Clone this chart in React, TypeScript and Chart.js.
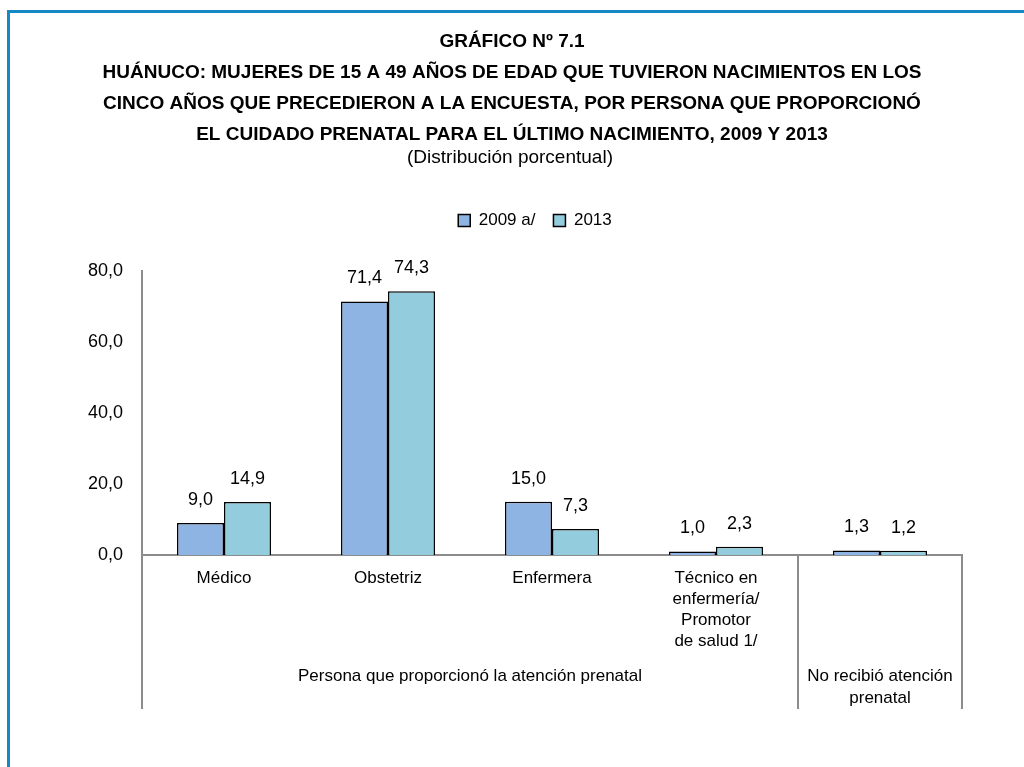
import React, { useEffect, useRef } from 'react';
import { Chart, registerables } from 'chart.js';

Chart.register(...registerables);

const FONT = "'Liberation Sans Narrow', 'Arial Narrow', 'Liberation Sans', sans-serif";

const titleLines = [
  'GRÁFICO Nº 7.1',
  'HUÁNUCO: MUJERES DE 15 A 49 AÑOS DE EDAD QUE TUVIERON NACIMIENTOS EN LOS',
  'CINCO AÑOS QUE PRECEDIERON A LA ENCUESTA, POR PERSONA QUE PROPORCIONÓ',
  'EL CUIDADO PRENATAL PARA EL ÚLTIMO NACIMIENTO, 2009 Y 2013',
];
const subtitle = '(Distribución porcentual)';

const categories: (string | string[])[] = [
  'Médico',
  'Obstetriz',
  'Enfermera',
  ['Técnico en', 'enfermería/', 'Promotor', 'de salud 1/'],
  '',
];
const groupPersona = 'Persona que proporcionó la atención prenatal';
const groupNoAtencion = ['No recibió atención', 'prenatal'];

const seriesNames = ['2009 a/', '2013'];
const values2009 = [9.0, 71.4, 15.0, 1.0, 1.3];
const values2013 = [14.9, 74.3, 7.3, 2.3, 1.2];
const yTicks = [0, 20, 40, 60, 80];

const COLOR_2009 = '#8EB4E3';
const COLOR_2013 = '#93CDDD';
const AXIS = '#8C8C8C';

const fmt = (v: number) => v.toFixed(1).replace('.', ',');

const decorPlugin = {
  id: 'decor',
  afterDraw(chart: any) {
    const ctx = chart.ctx;
    const x = chart.scales.x;
    const y = chart.scales.y;
    ctx.save();
    // title
    ctx.fillStyle = '#000';
    ctx.textAlign = 'center';
    ctx.textBaseline = 'middle';
    ctx.font = `bold 19px ${FONT}`;
    const ty = [42, 73, 104, 135];
    titleLines.forEach((t, i) => ctx.fillText(t, 512, ty[i]));
    ctx.font = `19px ${FONT}`;
    ctx.fillText(subtitle, 510, 158);

    // separators / extended axis lines
    const bottom = y.bottom;
    const ext = bottom + 154;
    const sep = (x.getPixelForValue(3) + x.getPixelForValue(4)) / 2;
    ctx.strokeStyle = AXIS;
    ctx.lineWidth = 2;
    [x.left, sep, x.right].forEach((px: number) => {
      ctx.beginPath();
      ctx.moveTo(px, bottom);
      ctx.lineTo(px, ext);
      ctx.stroke();
    });

    // group labels
    ctx.fillStyle = '#000';
    ctx.font = `17px ${FONT}`;
    ctx.fillText(groupPersona, (x.left + sep) / 2, bottom + 121);
    groupNoAtencion.forEach((t, i) => ctx.fillText(t, x.getPixelForValue(4), bottom + 121 + i * 22));

    // data labels
    ctx.font = `18px ${FONT}`;
    chart.data.datasets.forEach((ds: any, di: number) => {
      const meta = chart.getDatasetMeta(di);
      meta.data.forEach((el: any, i: number) => {
        ctx.fillText(fmt(ds.data[i]), el.x, el.y - 23);
      });
    });
    ctx.restore();
  },
};

export default function App() {
  const ref = useRef<HTMLCanvasElement | null>(null);
  useEffect(() => {
    if (!ref.current) return;
    Chart.defaults.font.family = FONT;
    Chart.defaults.color = '#000';
    const chart = new Chart(ref.current, {
      type: 'bar',
      data: {
        labels: categories as any,
        datasets: [
          {
            label: seriesNames[0],
            data: values2009,
            xAxisID: 'x',
            yAxisID: 'y',
            backgroundColor: COLOR_2009,
            borderColor: '#000',
            borderWidth: 1.5,
          },
          {
            label: seriesNames[1],
            data: values2013,
            xAxisID: 'x',
            yAxisID: 'y',
            backgroundColor: COLOR_2013,
            borderColor: '#000',
            borderWidth: 1.5,
          },
        ],
      },
      options: {
        responsive: false,
        animation: false,
        layout: { padding: { left: 46, right: 0, top: 194, bottom: 0 } },
        datasets: { bar: { categoryPercentage: 0.573, barPercentage: 1 } },
        plugins: {
          title: { display: false },
          tooltip: { enabled: false },
          legend: {
            display: true,
            position: 'top',
            labels: {
              boxWidth: 12,
              boxHeight: 12,
              padding: 18,
              color: '#000',
              font: { size: 17, family: FONT },
            },
          },
        },
        scales: {
          x: {
            grid: { display: false },
            border: { display: true, color: AXIS, width: 2 },
            ticks: {
              color: '#000',
              padding: 5,
              maxRotation: 0,
              autoSkip: false,
              font: { size: 17, family: FONT, lineHeight: 1.24 },
            },
            afterFit: (s: any) => {
              s.height = 212;
            },
          },
          y: {
            min: 0,
            max: 80,
            grid: { display: false },
            border: { display: true, color: AXIS, width: 2 },
            afterBuildTicks: (s: any) => {
              s.ticks = yTicks.map((v) => ({ value: v }));
            },
            ticks: {
              color: '#000',
              padding: 11,
              font: { size: 18, family: FONT },
              callback: (v: any) => fmt(Number(v)),
            },
            afterFit: (s: any) => {
              s.width = 96;
            },
          },
          padTop: {
            type: 'linear',
            axis: 'x',
            position: 'top',
            display: true,
            grid: { display: false },
            border: { display: false },
            ticks: { display: false },
            afterFit: (s: any) => {
              s.height = 32;
            },
          } as any,
          padRight: {
            type: 'linear',
            axis: 'y',
            position: 'right',
            display: true,
            grid: { display: false },
            border: { display: false },
            ticks: { display: false },
            afterFit: (s: any) => {
              s.width = 62;
            },
          } as any,
        },
      },
      plugins: [decorPlugin],
    });
    return () => chart.destroy();
  }, []);

  return (
    <div style={{ position: 'absolute', left: 0, top: 0, width: 1024, height: 767, background: '#fff' }}>
      <canvas ref={ref} width={1024} height={767} style={{ display: 'block' }} />
      <div
        style={{
          position: 'absolute',
          left: 7,
          top: 10,
          right: 0,
          bottom: 0,
          borderTop: '3px solid #1688C4',
          borderLeft: '3px solid #1688C4',
          pointerEvents: 'none',
        }}
      />
    </div>
  );
}
